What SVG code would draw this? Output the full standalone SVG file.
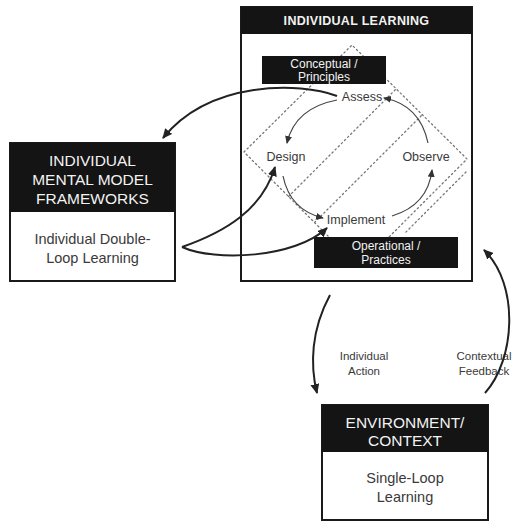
<svg xmlns="http://www.w3.org/2000/svg" width="515" height="521" viewBox="0 0 515 521">
  <style>
    .frame { fill: #fff; stroke: #1a1a1a; stroke-width: 2; }
    .bar { fill: #141414; }
    .hdr { font-family: "Liberation Sans", Arial, sans-serif; fill: #f2f2f2; text-anchor: middle; }
    .txt { font-family: "Liberation Sans", Arial, sans-serif; fill: #3a3a3a; text-anchor: middle; }
    .dots { fill: none; stroke: #777; stroke-width: 1.3; stroke-dasharray: 1.4 3; stroke-linecap: round; }
    .big { fill: none; stroke: #222; stroke-width: 2; marker-end: url(#headBig); }
    .loop { fill: none; stroke: #444; stroke-width: 1.2; marker-end: url(#headSmall); }
  </style>
  <defs>
    <marker id="headBig" markerUnits="userSpaceOnUse" markerWidth="11" markerHeight="9" refX="9" refY="4.5" orient="auto">
      <path d="M0,0 L10,4.5 L0,9 z" fill="#222"/>
    </marker>
    <marker id="headSmall" markerUnits="userSpaceOnUse" markerWidth="9" markerHeight="8" refX="7" refY="3.5" orient="auto">
      <path d="M0,0 L8,3.5 L0,7 z" fill="#333"/>
    </marker>
  </defs>

  <rect width="515" height="521" fill="#fff"/>

  <!-- individual learning frame -->
  <g id="individual-learning">
    <rect class="frame" x="241" y="7" width="231" height="274"/>
    <rect class="bar" x="241" y="7" width="231" height="27"/>
    <text class="hdr" x="356.5" y="25" font-size="12.5" font-weight="bold" letter-spacing="0.3">INDIVIDUAL LEARNING</text>
  </g>

  <!-- dotted conceptual / operational regions -->
  <g id="regions">
    <path class="dots" d="M244,152 L352,45 L467,159 L359,267 Z"/>
    <path class="dots" d="M288.5,196.5 L396,89"/>
    <path class="dots" d="M314.5,222.5 L422,115"/>
    <path class="dots" d="M466,172 L404,234"/>
  </g>

  <g id="conceptual">
    <rect class="bar" x="262" y="56" width="124" height="28"/>
    <text class="hdr" x="324" y="68" font-size="12">Conceptual /</text>
    <text class="hdr" x="324" y="81" font-size="12">Principles</text>
  </g>

  <g id="operational">
    <rect class="bar" x="314" y="237" width="144" height="31"/>
    <text class="hdr" x="386" y="250" font-size="12">Operational /</text>
    <text class="hdr" x="386" y="264" font-size="12">Practices</text>
  </g>

  <g id="assess"><text class="txt" x="362" y="101" font-size="12.5">Assess</text></g>
  <g id="design"><text class="txt" x="286" y="161" font-size="12.5">Design</text></g>
  <g id="observe"><text class="txt" x="426" y="161" font-size="12.5">Observe</text></g>
  <g id="implement"><text class="txt" x="356" y="224" font-size="12.5">Implement</text></g>

  <!-- mental model frameworks -->
  <g id="mental-models">
    <rect class="frame" x="10" y="143" width="165" height="138"/>
    <rect class="bar" x="10" y="143" width="165" height="69"/>
    <text class="hdr" x="92.5" y="166" font-size="15.5">INDIVIDUAL</text>
    <text class="hdr" x="92.5" y="185" font-size="15.5">MENTAL MODEL</text>
    <text class="hdr" x="92.5" y="204" font-size="15.5">FRAMEWORKS</text>
    <text class="txt" x="92.5" y="244" font-size="14.5">Individual Double-</text>
    <text class="txt" x="92.5" y="263" font-size="14.5">Loop Learning</text>
  </g>

  <!-- environment / context -->
  <g id="environment">
    <rect class="frame" x="322" y="405" width="166" height="115"/>
    <rect class="bar" x="322" y="405" width="166" height="47"/>
    <text class="hdr" x="405" y="428" font-size="15.5">ENVIRONMENT/</text>
    <text class="hdr" x="405" y="446" font-size="15.5">CONTEXT</text>
    <text class="txt" x="405" y="483" font-size="14.5">Single-Loop</text>
    <text class="txt" x="405" y="502" font-size="14.5">Learning</text>
  </g>

  <g id="action-label">
    <text class="txt" x="364" y="360" font-size="11.5">Individual</text>
    <text class="txt" x="364" y="375" font-size="11.5">Action</text>
  </g>
  <g id="feedback-label">
    <text class="txt" x="484" y="360" font-size="11.5">Contextual</text>
    <text class="txt" x="484" y="375" font-size="11.5">Feedback</text>
  </g>

  <!-- connectors -->
  <g id="connectors">
    <path class="loop" d="M337,100 Q295,108 287,143"/>
    <path class="loop" d="M283,176 Q290,210 323,218"/>
    <path class="loop" d="M392,216 Q428,205 432,170"/>
    <path class="loop" d="M428,143 Q420,105 384,98"/>
    <path class="big" d="M337,96 C300,82 210,80 163,138"/>
    <path class="big" d="M182,247 C225,232 262,210 275,167"/>
    <path class="big" d="M182,247 C215,262 295,258 327,228"/>
    <path class="big" d="M330,295 C311,330 310,365 317,393"/>
    <path class="big" d="M485,393 C515,360 520,285 484,250"/>
  </g>
</svg>
